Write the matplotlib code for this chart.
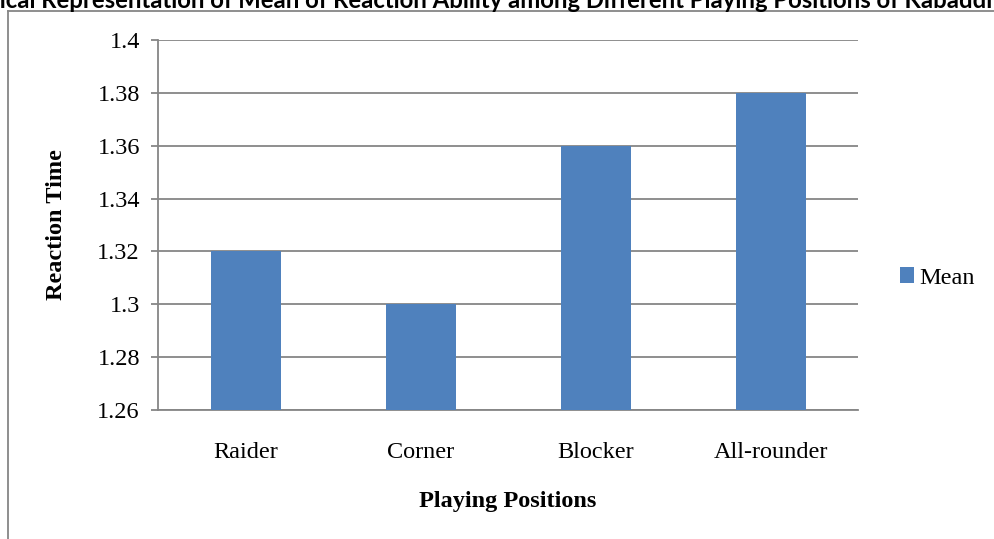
import matplotlib
matplotlib.use("Agg")
import matplotlib.pyplot as plt
from matplotlib.lines import Line2D
from matplotlib.font_manager import FontProperties

categories = ["Raider", "Corner", "Blocker", "All-rounder"]
means = [1.32, 1.30, 1.36, 1.38]
yticks = [1.26, 1.28, 1.30, 1.32, 1.34, 1.36, 1.38, 1.40]
ytick_labels = ["1.26", "1.28", "1.3", "1.32", "1.34", "1.36", "1.38", "1.4"]
series_name = "Mean"
title = "Graphical Representation of Mean of Reaction Ability among Different Playing Positions of Kabaddi Players"

W, H = 994, 539
fig = plt.figure(figsize=(W / 100, H / 100), dpi=100)

serif = ["Liberation Serif", "DejaVu Serif"]
grid_c = "#868686"
bar_c = "#4F81BD"
fs = 17.5

# outer chart border (partially off the figure)
fig.add_artist(Line2D([8 / W, 8 / W], [0, 1 - 11 / H], color=grid_c, lw=1.3, transform=fig.transFigure))
fig.add_artist(Line2D([8 / W, 1.0], [1 - 11 / H, 1 - 11 / H], color=grid_c, lw=1.3, transform=fig.transFigure))

ax = fig.add_axes([158 / W, 1 - 410 / H, 700 / W, 370 / H])
x = list(range(len(categories)))
ax.bar(x, means, width=0.4, color=bar_c, zorder=3, label=series_name)
ax.set_xlim(-0.5, len(categories) - 0.5)
ax.set_ylim(1.26, 1.40)
ax.set_yticks(yticks)
ax.set_yticklabels(ytick_labels, fontfamily=serif, fontsize=fs)
ax.set_xticks(x)
ax.set_xticklabels(categories, fontfamily=serif, fontsize=fs)
ax.yaxis.grid(True, color=grid_c, lw=1.3, zorder=0)
for s in ["top", "right"]:
    ax.spines[s].set_visible(False)
for s in ["left", "bottom"]:
    ax.spines[s].set_color(grid_c)
    ax.spines[s].set_linewidth(1.3)
ax.tick_params(axis="y", length=5, color=grid_c, width=1.3, pad=8)
ax.tick_params(axis="x", length=0, pad=23)

ax.set_ylabel("Reaction Time", fontfamily=serif, fontweight="bold", fontsize=fs)
ax.yaxis.set_label_coords(-(158 - 67) / 700, 0.5)
ax.set_xlabel("Playing Positions", fontfamily=serif, fontweight="bold", fontsize=fs, labelpad=20)

fig.legend(loc="center left", bbox_to_anchor=(890 / W, 1 - 278 / H), frameon=False,
           prop={"family": serif, "size": fs}, handlelength=0.6, handleheight=0.6,
           handletextpad=0.2, borderaxespad=0)

# title: clipped at the figure edges like the reference
tfam = ["Lato", "DejaVu Sans"]
renderer = fig.canvas.get_renderer()
base = 14.0
fp = FontProperties(family=tfam, weight="bold", size=base)
full_pre = title[:title.index("Kabaddi") + 6]
w_pre, _, _ = renderer.get_text_width_height_descent("Graph", fp, ismath=False)
w_all, _, _ = renderer.get_text_width_height_descent(full_pre, fp, ismath=False)
seg = w_all - w_pre
tfs = base * W / seg
x0 = -w_pre * tfs / base
fig.text(x0 / W, 1 - 7.5 / H, title, fontfamily=tfam, fontweight="bold",
         fontsize=tfs, ha="left", va="baseline")

fig.savefig("out.png", dpi=100)
